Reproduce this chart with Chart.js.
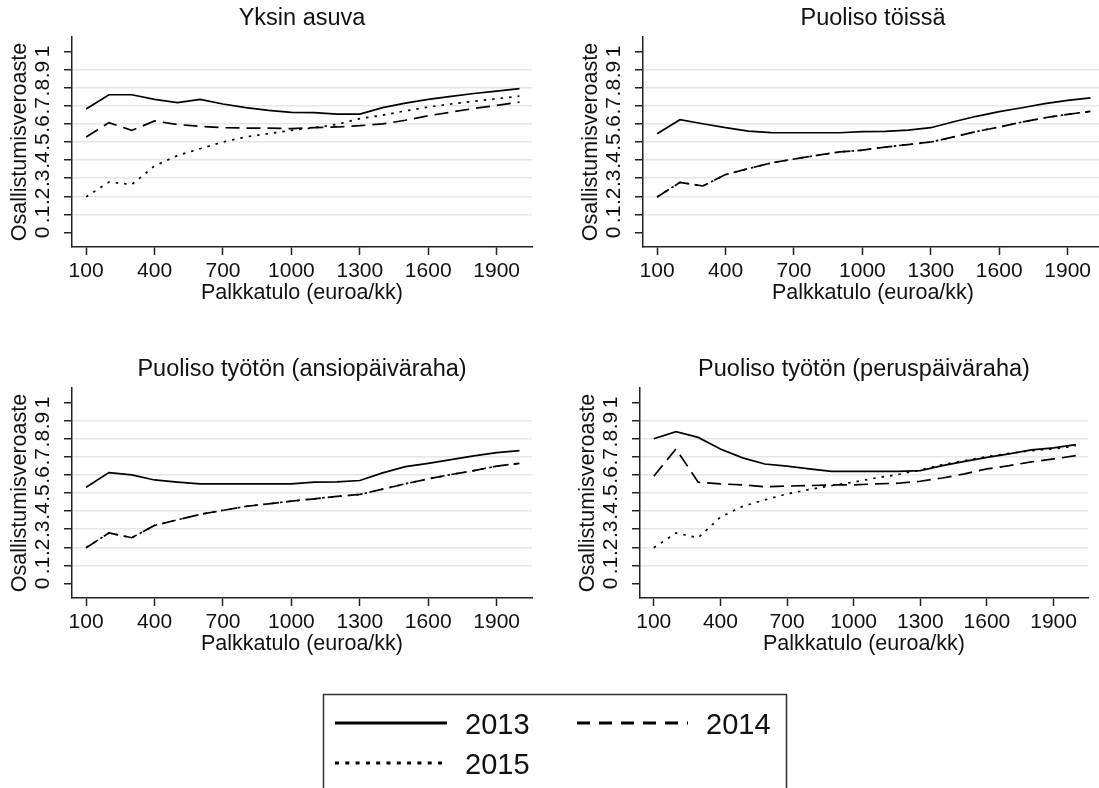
<!DOCTYPE html>
<html>
<head>
<meta charset="utf-8">
<script src="https://cdn.jsdelivr.net/npm/chart.js@4.4.1/dist/chart.umd.min.js"></script>
<style>
  body { margin: 0; background: #fff; width: 1099px; height: 788px; overflow: hidden; position: relative; }
  canvas { position: absolute; }
  #legend { position: absolute; left: 0; top: 0; }
</style>
</head>
<body>
<canvas id="p1"></canvas>
<canvas id="p2"></canvas>
<canvas id="p3"></canvas>
<canvas id="p4"></canvas>
<svg id="legend" width="1099" height="788" font-family="'Liberation Sans', Arial, sans-serif">
  <rect x="323.5" y="694.5" width="463" height="130" fill="none" stroke="#333" stroke-width="1.5"/>
  <line x1="335" y1="723" x2="447" y2="723" stroke="#000" stroke-width="3"/>
  <text x="465" y="733.5" font-size="29" fill="#111">2013</text>
  <line x1="577" y1="723" x2="688" y2="723" stroke="#000" stroke-width="3" stroke-dasharray="13,9"/>
  <text x="706" y="733.5" font-size="29" fill="#111">2014</text>
  <line x1="335" y1="763" x2="443" y2="763" stroke="#000" stroke-width="3" stroke-dasharray="4,6.3"/>
  <text x="465" y="774" font-size="29" fill="#111">2015</text>
</svg>
<script>
// palkkatulo (euroa/kk)
const palkka = [100, 200, 300, 400, 500, 600, 700, 800, 900, 1000,
                1100, 1200, 1300, 1400, 1500, 1600, 1700, 1800, 1900, 2000];
const xTicks = [100, 400, 700, 1000, 1300, 1600, 1900];
const yTicks = [0, 0.1, 0.2, 0.3, 0.4, 0.5, 0.6, 0.7, 0.8, 0.9, 1];
const yTickLabels = ['0', '.1', '.2', '.3', '.4', '.5', '.6', '.7', '.8', '.9', '1'];

// Yksin asuva
const yksin2013 = [0.682, 0.761, 0.761, 0.735, 0.717, 0.735, 0.71, 0.69, 0.675, 0.664,
                   0.662, 0.654, 0.654, 0.69, 0.715, 0.735, 0.752, 0.768, 0.781, 0.795];
const yksin2014 = [0.528, 0.607, 0.564, 0.616, 0.597, 0.586, 0.579, 0.577, 0.577, 0.574,
                   0.579, 0.583, 0.59, 0.60, 0.62, 0.645, 0.665, 0.685, 0.702, 0.72];
const yksin2015 = [0.197, 0.279, 0.265, 0.368, 0.425, 0.463, 0.5, 0.528, 0.546, 0.564,
                   0.579, 0.597, 0.629, 0.648, 0.672, 0.693, 0.71, 0.725, 0.739, 0.753];

// Puoliso töissä
const toissa2013 = [0.546, 0.623, 0.601, 0.579, 0.56, 0.552, 0.551, 0.551, 0.551, 0.557,
                    0.559, 0.566, 0.579, 0.612, 0.642, 0.668, 0.689, 0.712, 0.73, 0.744];
const toissa2014 = [0.196, 0.277, 0.257, 0.32, 0.353, 0.384, 0.406, 0.426, 0.445, 0.455,
                    0.472, 0.486, 0.5, 0.528, 0.558, 0.583, 0.61, 0.634, 0.653, 0.669];
const toissa2015 = [0.196, 0.277, 0.257, 0.32, 0.353, 0.384, 0.406, 0.426, 0.445, 0.455,
                    0.472, 0.486, 0.5, 0.528, 0.558, 0.583, 0.61, 0.634, 0.653, 0.669];

// Puoliso työtön (ansiopäiväraha)
const ansio2013 = [0.532, 0.613, 0.6, 0.572, 0.56, 0.55, 0.55, 0.55, 0.55, 0.55,
                   0.56, 0.562, 0.569, 0.611, 0.646, 0.664, 0.684, 0.705, 0.723, 0.734];
const ansio2014 = [0.198, 0.279, 0.253, 0.321, 0.352, 0.382, 0.404, 0.426, 0.44, 0.455,
                   0.468, 0.481, 0.492, 0.521, 0.551, 0.578, 0.602, 0.624, 0.648, 0.664];
const ansio2015 = [0.198, 0.279, 0.253, 0.321, 0.352, 0.382, 0.404, 0.426, 0.44, 0.455,
                   0.468, 0.481, 0.492, 0.521, 0.551, 0.578, 0.602, 0.624, 0.648, 0.664];

// Puoliso työtön (peruspäiväraha)
const perus2013 = [0.8, 0.839, 0.807, 0.743, 0.694, 0.66, 0.648, 0.633, 0.62, 0.62,
                   0.62, 0.62, 0.624, 0.651, 0.675, 0.697, 0.716, 0.738, 0.749, 0.767];
const perus2014 = [0.593, 0.743, 0.56, 0.55, 0.545, 0.534, 0.538, 0.541, 0.545, 0.545,
                   0.55, 0.554, 0.565, 0.583, 0.606, 0.633, 0.651, 0.672, 0.688, 0.706];
const perus2015 = [0.198, 0.279, 0.253, 0.367, 0.426, 0.462, 0.495, 0.519, 0.541, 0.56,
                   0.583, 0.602, 0.627, 0.657, 0.679, 0.701, 0.719, 0.734, 0.743, 0.761];

const FONT = "'Liberation Sans', Arial, sans-serif";
const TXT = '#111';

const panels = [
  { id: 'p1', left: 0,   top: 0,   width: 549, title: 'Yksin asuva', data: [yksin2013, yksin2014, yksin2015] },
  { id: 'p2', left: 571, top: 0,   width: 549, title: 'Puoliso töissä', data: [toissa2013, toissa2014, toissa2015] },
  { id: 'p3', left: 0,   top: 351, width: 549, title: 'Puoliso työtön (ansiopäiväraha)', data: [ansio2013, ansio2014, ansio2015] },
  { id: 'p4', left: 568, top: 351, width: 537, title: 'Puoliso työtön (peruspäiväraha)', data: [perus2013, perus2014, perus2015] }
];

// title above plot + vertical y tick labels (Stata style)
const panelText = {
  id: 'panelText',
  afterDraw(chart, args, opts) {
    const { ctx, chartArea } = chart;
    const ys = chart.scales.y;
    ctx.save();
    ctx.fillStyle = TXT;
    ctx.textAlign = 'center';
    ctx.textBaseline = 'middle';
    ctx.font = '23.5px ' + FONT;
    ctx.fillText(opts.title, (chartArea.left + chartArea.right) / 2, chartArea.top - 18);
    ctx.font = '21px ' + FONT;
    yTicks.forEach((v, i) => {
      ctx.save();
      ctx.translate(43.5, ys.getPixelForValue(v));
      ctx.rotate(-Math.PI / 2);
      ctx.fillText(yTickLabels[i], 0, 0);
      ctx.restore();
    });
    ctx.restore();
  }
};

function makeDataset(vals, dash) {
  return {
    data: palkka.map((x, i) => ({ x: x, y: vals[i] })),
    borderColor: '#000',
    borderWidth: 1.7,
    borderDash: dash,
    pointRadius: 0,
    tension: 0,
    fill: false
  };
}

panels.forEach(p => {
  const cv = document.getElementById(p.id);
  cv.width = p.width;
  cv.height = 310;
  cv.style.left = p.left + 'px';
  cv.style.top = p.top + 'px';
  cv.style.width = p.width + 'px';
  cv.style.height = '310px';

  new Chart(cv, {
    type: 'line',
    data: {
      datasets: [
        makeDataset(p.data[0], []),
        makeDataset(p.data[1], [14, 7]),
        makeDataset(p.data[2], [2.5, 6])
      ]
    },
    options: {
      responsive: false,
      animation: false,
      layout: { padding: { top: 37, right: 17, bottom: 0, left: 0 } },
      plugins: {
        legend: { display: false },
        tooltip: { enabled: false },
        panelText: { title: p.title }
      },
      scales: {
        x: {
          type: 'linear',
          min: 38,
          max: 2055,
          afterBuildTicks: s => { s.ticks = xTicks.map(v => ({ value: v })); },
          afterFit: s => { s.height = 63; },
          grid: { drawOnChartArea: false, drawTicks: true, tickLength: 8, tickColor: '#222', tickWidth: 1.5 },
          border: { color: '#222', width: 1.5 },
          ticks: {
            autoSkip: false, maxRotation: 0, padding: 4, color: TXT,
            font: { family: FONT, size: 21 },
            callback: v => String(v)
          },
          title: { display: true, text: 'Palkkatulo (euroa/kk)', color: TXT, font: { family: FONT, size: 21.5 }, padding: { top: 0, bottom: 4 } }
        },
        y: {
          min: -0.08,
          max: 1.08,
          afterBuildTicks: s => { s.ticks = yTicks.map(v => ({ value: v })); },
          afterFit: s => { s.width = 72; },
          grid: {
            color: c => (c.tick && (c.tick.value === 0 || c.tick.value === 1)) ? 'rgba(0,0,0,0)' : '#e6e6e6',
            lineWidth: 1.5,
            drawTicks: true,
            tickLength: 8,
            tickColor: '#222',
            tickWidth: 1.5
          },
          border: { color: '#222', width: 1.5 },
          ticks: { display: false },
          title: { display: true, text: 'Osallistumisveroaste', color: TXT, font: { family: FONT, size: 21.5 }, padding: { top: 7, bottom: 0 } }
        }
      }
    },
    plugins: [panelText]
  });
});
</script>
</body>
</html>
